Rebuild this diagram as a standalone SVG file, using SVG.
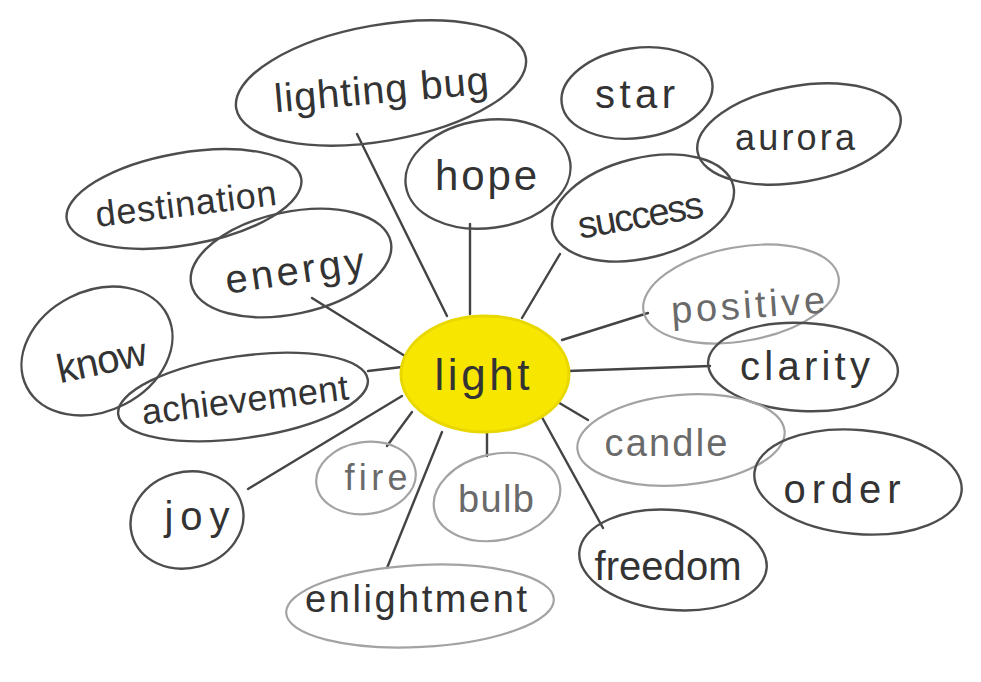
<svg xmlns="http://www.w3.org/2000/svg" width="981" height="682" viewBox="0 0 981 682">
<style>
.bg{fill:#ffffff}
.n{fill:none;stroke:#4d4d4d;stroke-width:2.4}
.nl{fill:none;stroke:#a3a3a3;stroke-width:2.2}
.c line{stroke:#444;stroke-width:2.4;stroke-linecap:round}
.t{font-family:"Liberation Sans","DejaVu Sans",sans-serif;font-size:40px;fill:#333;text-anchor:middle}
.tl{fill:#6a6a6a}
</style>
<rect class="bg" x="0" y="0" width="981" height="682"/>
<g class="c" id="connectors">
<line x1="447" y1="316" x2="357" y2="134"/>
<line x1="470" y1="314" x2="470" y2="224"/>
<line x1="522" y1="318" x2="560" y2="254"/>
<line x1="405" y1="356" x2="312" y2="298"/>
<line x1="402" y1="367" x2="368" y2="371"/>
<line x1="402" y1="396" x2="248" y2="489"/>
<line x1="412" y1="412" x2="387" y2="446"/>
<line x1="442" y1="432" x2="387" y2="568"/>
<line x1="487" y1="432" x2="487" y2="456"/>
<line x1="538" y1="410" x2="603" y2="528"/>
<line x1="556" y1="401" x2="588" y2="420"/>
<line x1="568" y1="371" x2="710" y2="366"/>
<line x1="562" y1="340" x2="648" y2="313"/>
</g>
<g id="lighting-bug"><ellipse class="n" cx="381" cy="83" rx="147" ry="58" transform="rotate(-10 381 83)"/><text class="t" x="382" y="103" textLength="215" transform="rotate(-5 382 95)">lighting bug</text></g>
<g id="star"><ellipse class="n" cx="637" cy="93" rx="76" ry="45" transform="rotate(-8 637 93)"/><text class="t" x="635" y="108" textLength="80">star</text></g>
<g id="aurora"><ellipse class="n" cx="799" cy="134" rx="103" ry="48" transform="rotate(-10 799 134)"/><text class="t" x="795" y="150" textLength="120" style="font-size:36px">aurora</text></g>
<g id="hope"><ellipse class="n" cx="488" cy="174" rx="83" ry="54" transform="rotate(-8 488 174)"/><text class="t" x="486" y="190" textLength="102" style="font-size:42px">hope</text></g>
<g id="success"><ellipse class="n" cx="643" cy="208" rx="93" ry="50" transform="rotate(-14 643 208)"/><text class="t" x="641" y="228" textLength="127" transform="rotate(-10 641 218)" style="font-size:38px">success</text></g>
<g id="destination"><ellipse class="n" cx="184" cy="199" rx="119" ry="46" transform="rotate(-10 184 199)"/><text class="t" x="186" y="216" textLength="182" transform="rotate(-7 186 205)" style="font-size:36px">destination</text></g>
<g id="energy"><ellipse class="n" cx="291" cy="263" rx="102" ry="51" transform="rotate(-12 291 263)"/><text class="t" x="295" y="284" textLength="140" transform="rotate(-8 295 273)">energy</text></g>
<g id="know"><ellipse class="n" cx="97" cy="351" rx="79" ry="60" transform="rotate(-27 97 351)"/><text class="t" x="102" y="374" textLength="91" transform="rotate(-12 102 362)">know</text></g>
<g id="positive"><ellipse class="nl" cx="741" cy="294" rx="99" ry="47" transform="rotate(-10 741 294)"/><text class="t tl" x="748" y="318" textLength="154" transform="rotate(-4 748 305)" style="font-size:38px">positive</text></g>
<g id="clarity"><ellipse class="n" cx="803" cy="367" rx="95" ry="44" transform="rotate(3 803 367)"/><text class="t" x="805" y="380" textLength="130">clarity</text></g>
<g id="light"><ellipse cx="485" cy="374" rx="84" ry="58" fill="#f7e600" stroke="#e8d800" stroke-width="3"/><text class="t" x="482" y="390" textLength="95" style="font-size:44px">light</text></g>
<g id="achievement"><ellipse class="n" cx="243" cy="397" rx="126" ry="41" transform="rotate(-8 243 397)"/><text class="t" x="245" y="412" textLength="208" transform="rotate(-7 245 400)" style="font-size:36px">achievement</text></g>
<g id="candle"><ellipse class="nl" cx="681" cy="440" rx="104" ry="45" transform="rotate(-5 681 440)"/><text class="t tl" x="666" y="456" textLength="123" style="font-size:38px">candle</text></g>
<g id="order"><ellipse class="n" cx="858" cy="482" rx="104" ry="52" transform="rotate(5 858 482)"/><text class="t" x="842" y="503" textLength="117">order</text></g>
<g id="fire"><ellipse class="nl" cx="366" cy="478" rx="50" ry="36" transform="rotate(-8 366 478)"/><text class="t tl" x="376" y="490" textLength="63" style="font-size:36px">fire</text></g>
<g id="bulb"><ellipse class="nl" cx="497" cy="497" rx="64" ry="43" transform="rotate(-12 497 497)"/><text class="t tl" x="496" y="512" textLength="76" style="font-size:38px">bulb</text></g>
<g id="joy"><ellipse class="n" cx="187" cy="520" rx="57" ry="48" transform="rotate(-15 187 520)"/><text class="t" x="197" y="530" textLength="65">joy</text></g>
<g id="freedom"><ellipse class="n" cx="673" cy="560" rx="94" ry="50" transform="rotate(5 673 560)"/><text class="t" x="668" y="580" textLength="147">freedom</text></g>
<g id="enlightment"><ellipse class="nl" cx="420" cy="606" rx="134" ry="41" transform="rotate(-3 420 606)"/><text class="t" x="416" y="612" textLength="222" style="font-size:38px">enlightment</text></g>
</svg>
